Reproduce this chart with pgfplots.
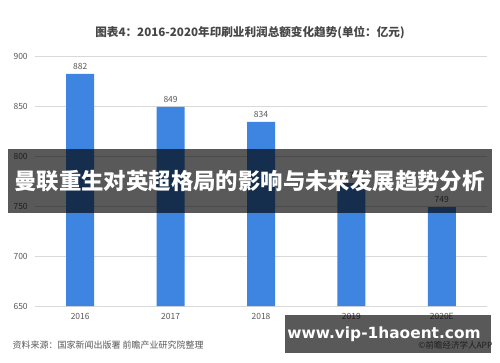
\documentclass[border=0pt]{standalone}
\usepackage{pgfplots}
\pgfplotsset{compat=1.18}
\usepackage{fontspec}
\setmainfont{Noto Sans CJK SC}
\newfontfamily\webfont{DejaVu Sans}
\definecolor{barblue}{HTML}{3D85E0}
\definecolor{txtgray}{HTML}{595959}
\definecolor{gridgray}{HTML}{D9D9D9}
\begin{document}
\begin{tikzpicture}[x=1pt,y=1pt]
\path[use as bounding box, fill=white] (0,0) rectangle (500,362);
\begin{axis}[
  at={(35pt,56pt)}, anchor=south west,
  scale only axis, width=452pt, height=250pt,
  xmin=-0.5, xmax=4.5, ymin=650, ymax=900,
  ytick={650,700,...,900},
  xtick={0,1,2,3,4},
  xticklabels={2016,2017,2018,2019,2020E},
  axis line style={draw=none},
  major tick length=0pt,
  ymajorgrids, grid style={gridgray, line width=0.6pt},
  tick label style={font=\fontsize{8.5}{10}\selectfont, text=txtgray},
  /pgf/number format/assume math mode=true,
  /pgf/number format/1000 sep={},
  yticklabel style={anchor=west, xshift=-25pt},
  xticklabel style={yshift=-4pt},
  clip=false,
  nodes near coords,
  every node near coord/.append style={font=\fontsize{8.5}{10}\selectfont, text=txtgray, yshift=1pt},
]
\addplot[ybar, bar width=28pt, fill=barblue, draw=none]
  coordinates {(0,882) (1,849) (2,834) (3,773) (4,749)};
\end{axis}
% title and source line
\node[font=\fontsize{11.6}{13}\selectfont\bfseries, text=txtgray!80!black] at (250,329)
  {图表4：2016-2020年印刷业利润总额变化趋势(单位：亿元)};
\node[anchor=west, font=\fontsize{9}{11}\selectfont, text=txtgray] at (9,17)
  {资料来源：国家新闻出版署\ 前瞻产业研究院整理};
\node[anchor=east, font=\fontsize{8.5}{10}\selectfont, text=txtgray] at (496,17)
  {©前瞻经济学人APP};
% headline banner
\fill[black, opacity=0.65] (8,149.5) rectangle (491.5,213);
\node[text=white, font=\fontsize{22.4}{25}\selectfont\bfseries] at (249.5,181)
  {曼联重生对英超格局的影响与未来发展趋势分析};
% site badge
\fill[black, opacity=0.65] (285,9.5) rectangle (491,47);
\node[text=white, font=\webfont\fontsize{15.4}{18}\selectfont\bfseries] at (384,28)
  {www.vip-1haoent.com};
\end{tikzpicture}
\end{document}
